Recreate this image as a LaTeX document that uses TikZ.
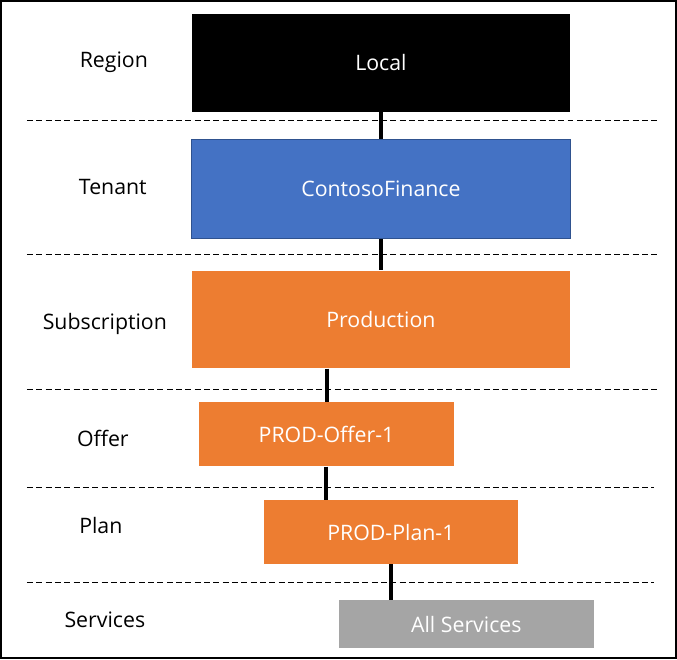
\documentclass[tikz,border=0pt]{standalone}
\usepackage{fontspec}
\setmainfont{Open Sans}
\definecolor{lvlblue}{HTML}{4472C4}
\definecolor{lvlblueedge}{HTML}{2F528F}
\definecolor{lvlorange}{HTML}{ED7D31}
\definecolor{lvlgray}{HTML}{A5A5A5}
\begin{document}
\begin{tikzpicture}[x=0.75pt, y=-0.75pt, font=\fontsize{16}{19}\selectfont,
    lvl/.style={rectangle, inner sep=0pt, text=white},
    lbl/.style={inner sep=0pt},
    link/.style={line width=3pt}]
        \draw[line width=1.5pt] (0,0) rectangle (676,658);
        \foreach \y/\xe in {120/657,254/657,389/657,487/654,582/654} {
            \draw[line width=0.75pt, dash pattern=on 4.5pt off 2.5pt] (26,\y) -- (\xe,\y);
        }
        \node[lvl, fill=black, minimum width=379*0.75pt, minimum height=98*0.75pt] (local) at (380.5,62) {Local};
        \node[lvl, fill=lvlblue, draw=lvlblueedge, line width=0.75pt, minimum width=379*0.75pt, minimum height=99*0.75pt] (contoso) at (380.5,188.5) {ContosoFinance};
        \node[lvl, fill=lvlorange, minimum width=379*0.75pt, minimum height=98*0.75pt] (prod) at (380.5,319) {Production};
        \node[lvl, fill=lvlorange, minimum width=256*0.75pt, minimum height=64*0.75pt] (offer) at (326,434) {PROD-Offer-1};
        \node[lvl, fill=lvlorange, minimum width=255*0.75pt, minimum height=64*0.75pt] (plan) at (390.5,532) {PROD-Plan-1};
        \node[lvl, fill=lvlgray, minimum width=256*0.75pt, minimum height=48*0.75pt] (services) at (466,624) {All Services};
        \draw[link] (local) -- (contoso);
        \draw[link] (contoso) -- (prod);
        \draw[link] (offer.north |- prod.south) -- (offer.north);
        \draw[link] ([xshift=-0.75pt]offer.south) -- ([xshift=-0.75pt]offer.south |- plan.north);
        \draw[link] (plan.south) -- (plan.south |- services.north);
        \node[lbl] (lregion) at (113,61) {Region};
        \node[lbl] (ltenant) at (112,186) {Tenant};
        \node[lbl] (lsub) at (104,323) {Subscription};
        \node[lbl] (loffer) at (102,438) {Offer};
        \node[lbl] (lplan) at (100,525) {Plan};
        \node[lbl] (lservices) at (104,620) {Services};
    \end{tikzpicture}
\end{document}
